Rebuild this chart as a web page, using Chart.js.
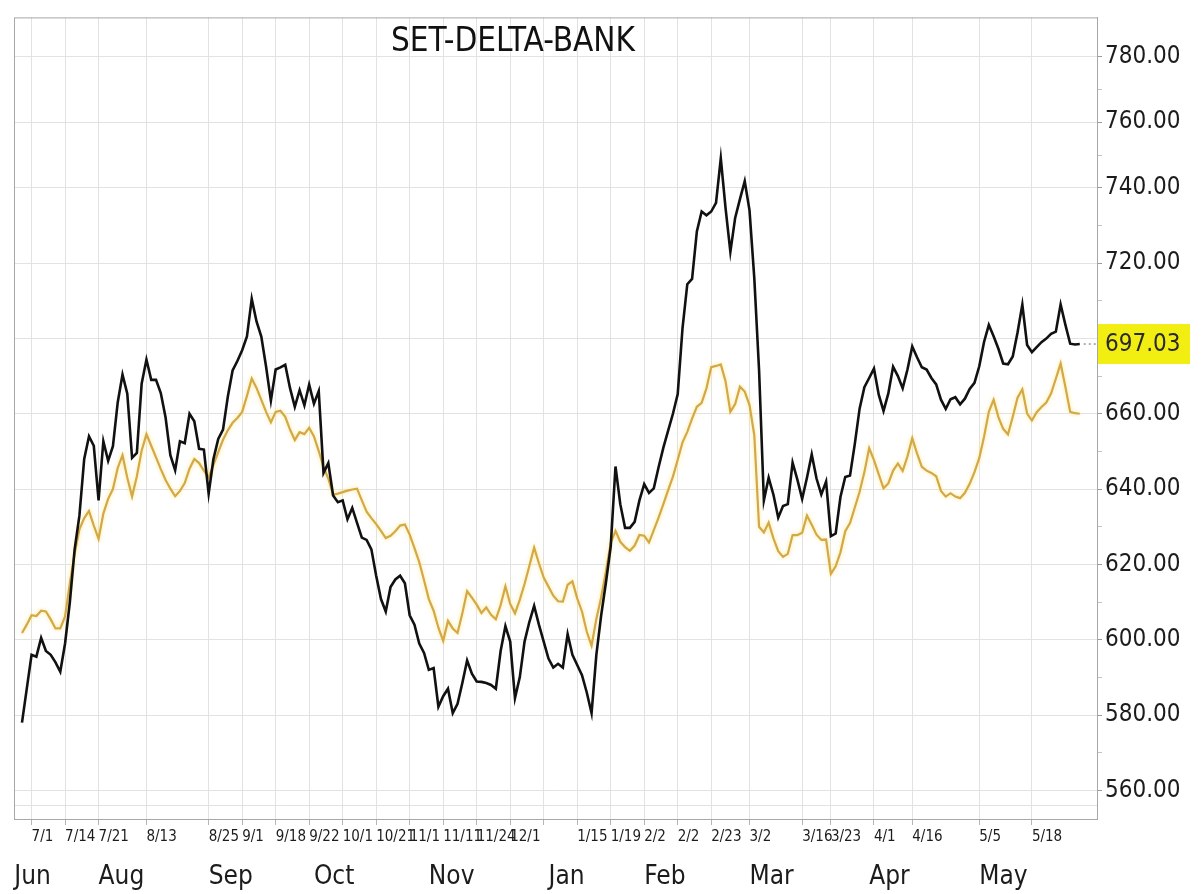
<!DOCTYPE html>
<html>
<head>
<meta charset="utf-8">
<title>SET-DELTA-BANK</title>
<script src="https://cdn.jsdelivr.net/npm/chart.js@4/dist/chart.umd.min.js"></script>
<style>
  html, body { margin: 0; padding: 0; background: #fff; }
  #wrap { width: 1203px; height: 894px; }
</style>
</head>
<body>
<div id="wrap"><canvas id="chart"></canvas></div>
<script>
/** SET-DELTA-BANK daily line chart: index (black) vs. comparison line (gold). */

const TITLE = "SET-DELTA-BANK";

// x axis: one step per trading day, tick labels sit on given day indices
const DATE_TICKS = [2, 9, 16, 26, 39, 46, 53, 60, 67, 74, 81, 88, 95, 102, 109, 116, 123, 130, 137, 144, 152, 163, 169, 178, 186, 200, 211];
const DATE_LABELS = ["7/1", "7/14", "7/21", "8/13", "8/25", "9/1", "9/18", "9/22", "10/1", "10/21", "11/1", "11/11", "11/24", "12/1", "", "1/15", "1/19", "2/2", "2/2", "2/23", "3/2", "3/16", "3/23", "4/1", "4/16", "5/5", "5/18"];
const MONTH_TICKS = [-1.6, 16, 39, 61, 85, 110, 130, 152, 177, 200];
const MONTH_LABELS = ["Jun", "Aug", "Sep", "Oct", "Nov", "Jan", "Feb", "Mar", "Apr", "May"];

// y axis
const Y_GRID = [556, 560, 580, 600, 620, 640, 660, 700, 720, 740, 760, 780];
const Y_LABELED = [560, 580, 600, 620, 640, 660, 720, 740, 760, 780];
const Y_MINOR = [570, 590, 610, 630, 650, 680, 710, 730, 750, 770];

const BANK_INDEX = [
  578, 587, 596, 595.5, 600.5, 597, 596, 594, 591.5, 599,
  610, 624, 633, 648, 654, 651.5, 637, 652.7, 647.5, 651.4,
  666, 680.8, 670.7, 648.3, 649.6, 676, 688.8, 678, 678, 671,
  659, 649, 645, 652.7, 652.2, 660, 658, 650.7, 650.5, 638.8,
  648, 653.3, 655.8, 669, 683, 688, 693.7, 700.5, 710.5, 704.5,
  700.5, 685, 667, 683.5, 684.6, 686, 673.6, 663.7, 672.5, 664.5,
  675.5, 665.3, 672, 644.3, 646.9, 638.3, 636.5, 637, 632, 635,
  631, 627.1, 626.5, 624, 617, 610.8, 607.5, 614, 616, 617,
  615, 606.5, 604, 599, 596.5, 592, 592.5, 582.2, 585, 587,
  580.5, 583, 588.5, 594.5, 591, 588.9, 588.8, 588.5, 588, 587,
  597, 603.6, 599.5, 584.5, 590, 599.5, 604.7, 609, 604, 599.5,
  595, 592.6, 593.6, 592.6, 601.5, 596, 593.3, 590.6, 586, 580.5,
  596, 606.4, 615.2, 624.7, 646, 636, 629.7, 629.7, 631.3, 637,
  641.3, 639, 640.2, 645.8, 651, 655.5, 660, 670.5, 702.7, 714.4,
  715.8, 728.4, 733.7, 732.7, 733.7, 736, 749, 734.5, 723, 732,
  737, 742, 734, 716, 683, 637, 643, 638.5, 632.4, 635.5,
  636, 647, 642.5, 637.4, 643, 649.2, 642.8, 638.6, 642, 627.5,
  628.2, 637.9, 643.2, 643.6, 652, 662.7, 674.1, 679, 684, 670.1,
  661.5, 670.8, 685, 680, 673.5, 683.5, 695.7, 690, 684.7, 683.5,
  679, 675.6, 667.5, 662.6, 667.7, 668.8, 665, 668, 673.2, 676.4,
  685.2, 698.1, 703.6, 700.6, 694.5, 686.7, 686.3, 690.4, 701.6, 709,
  696.5, 692.7, 695.4, 698, 699.9, 701.2, 701.8, 709, 703.6, 697.2,
  696.8, 697.03
];

const COMPARE_LINE = [
  601.8, 604, 606.5, 606.3, 607.7, 607.5, 605.4, 603, 603, 606.2,
  615, 622.8, 629.3, 632.3, 634.2, 630.3, 626.8, 633.5, 637.4, 640,
  645.6, 649, 643, 638, 643.4, 650.2, 654.6, 651.5, 648.4, 645.3,
  642.4, 640.1, 638.1, 639.5, 641.6, 645.4, 648, 646.9, 644.9, 643.1,
  646.4, 649.8, 653.1, 655.6, 657.6, 658.9, 661, 669.5, 678.7, 673.7,
  667.4, 661, 657.7, 661, 661.6, 659.2, 655.8, 653, 655.1, 654.6,
  656.3, 654, 650.1, 645.8, 642.8, 638.5, 638.8, 639.2, 639.6, 639.9,
  640.1, 637, 634, 632.3, 630.7, 628.9, 627, 627.6, 628.8, 630.3,
  630.6, 627.9, 624.3, 620.6, 615.8, 610.8, 607.7, 603.2, 599.7, 605,
  603, 601.8, 607, 612.9, 611.2, 609.3, 607.1, 608.6, 606.6, 605.4,
  609.2, 614.2, 609.5, 607, 610.6, 614.8, 619.6, 624.5, 620.3, 616.5,
  614.1, 611.7, 610.2, 610.1, 614.6, 615.5, 611, 607.5, 602.1, 598.4,
  605.5, 611.2, 618.1, 625.7, 628.9, 626, 624.6, 623.6, 625, 627.8,
  627.6, 625.8, 629.1, 632.4, 636, 639.7, 643.3, 647.8, 652.4, 655.2,
  658.7, 663.7, 665.8, 673.5, 684.8, 685.4, 686.2, 677.2, 661, 665.2,
  674.4, 671.8, 664.6, 654.3, 630, 628.5, 631.1, 626.9, 623.5, 622,
  622.8, 627.8, 627.8, 628.4, 633, 630.5, 627.9, 626.5, 626.6, 617.5,
  619.5, 623.2, 628.8, 631, 635.1, 639.3, 644.5, 650.9, 647.7, 643.9,
  640.2, 641.5, 644.9, 646.8, 644.8, 648.7, 653.5, 649.5, 645.9, 644.9,
  644.3, 643.4, 639.5, 638, 638.9, 638, 637.6, 639, 641.4, 644.5,
  648.2, 653.9, 661, 667.5, 659.1, 656, 654.5, 659.2, 668.5, 673,
  660.1, 658.2, 660.8, 663.6, 666, 670.7, 678.6, 686.7, 674.2, 661,
  660.3, 660
];

// the value axis of the original is not evenly spaced: gridlines sit on these
// values, with the given relative gap between neighbours
const Y_STOPS = [560, 580, 600, 620, 640, 660, 700, 720, 740, 760, 780];
const Y_GAPS = [1, 1, 1, 1, 1, 1, 1, 1, 0.87, 0.87];

function stopPosition(v) {
  const n = Y_STOPS.length;
  if (v <= Y_STOPS[0]) return ((v - Y_STOPS[0]) / (Y_STOPS[1] - Y_STOPS[0])) * Y_GAPS[0];
  let pos = 0;
  for (let j = 0; j < n - 1; j++) {
    const a = Y_STOPS[j], b = Y_STOPS[j + 1];
    if (v <= b || j === n - 2) return pos + ((v - a) / (b - a)) * Y_GAPS[j];
    pos += Y_GAPS[j];
  }
  return pos;
}

function valueFromPosition(p) {
  let pos = 0;
  for (let j = 0; j < Y_STOPS.length - 1; j++) {
    const a = Y_STOPS[j], b = Y_STOPS[j + 1], g = Y_GAPS[j];
    if (p <= pos + g || j === Y_STOPS.length - 2) return a + ((p - pos) / g) * (b - a);
    pos += g;
  }
  return Y_STOPS[Y_STOPS.length - 1];
}

class SteppedScale extends Chart.LinearScale {
  static id = "stepped";
  getPixelForValue(value) {
    if (value === null || value === undefined) return NaN;
    const lo = stopPosition(this.min), hi = stopPosition(this.max);
    return this.getPixelForDecimal((stopPosition(value) - lo) / (hi - lo));
  }
  getValueForPixel(pixel) {
    const lo = stopPosition(this.min), hi = stopPosition(this.max);
    return valueFromPosition(lo + this.getDecimalForPixel(pixel) * (hi - lo));
  }
}
Chart.register(SteppedScale);

//pick a narrow face if one is installed
function fontAvailable(family) {
  const ctx = document.createElement("canvas").getContext("2d");
  const sample = "SET-DELTA-BANK 780.00";
  ctx.font = "40px monospace";
  const base = ctx.measureText(sample).width;
  ctx.font = `40px "${family}", monospace`;
  return ctx.measureText(sample).width !== base;
}
const NARROW = ["Liberation Sans Narrow", "DejaVu Sans Condensed"].find(fontAvailable);
const FAMILY = NARROW ? `"${NARROW}", "Liberation Sans", sans-serif` : `"Liberation Sans", sans-serif`;
const FS = NARROW === "Liberation Sans Narrow" ? 1 : 0.81;
const px = (n) => Math.round(n * FS);

Chart.defaults.font.family = FAMILY;
Chart.defaults.color = "#1c1c1c";

const decorations = {
  id: "decorations",
  beforeDatasetsDraw(chart) {
    const { ctx, chartArea: a } = chart;
    ctx.save();
    ctx.strokeStyle = "#a8a8a8";
    ctx.lineWidth = 1;
    ctx.strokeRect(a.left + 0.5, a.top + 0.5, a.right - a.left, a.bottom - a.top);
    ctx.restore();
  },
  beforeDatasetDraw(chart, args) {
    if (args.index !== 1) return;
    const ctx = chart.ctx;
    ctx.save();
    ctx.shadowColor = "rgba(255, 230, 130, 0.9)";
    ctx.shadowBlur = 4;
  },
  afterDatasetDraw(chart, args) {
    if (args.index === 1) chart.ctx.restore();
  },
  afterDatasetsDraw(chart) {
    const { ctx, chartArea: a, scales } = chart;
    ctx.save();
    // title
    ctx.font = `${px(41)}px ${FAMILY}`;
    ctx.fillStyle = "#111";
    ctx.textAlign = "center";
    ctx.textBaseline = "alphabetic";
    ctx.fillText(TITLE, 513, 51);

    // last value tag
    const last = BANK_INDEX[BANK_INDEX.length - 1];
    const y = scales.y.getPixelForValue(last);
    const xEnd = scales.x.getPixelForValue(BANK_INDEX.length - 1);
    ctx.strokeStyle = "#666";
    ctx.setLineDash([2, 3]);
    ctx.beginPath();
    ctx.moveTo(xEnd + 4, y);
    ctx.lineTo(a.right - 1, y);
    ctx.stroke();
    ctx.setLineDash([]);
    ctx.fillStyle = "#f2ee12";
    ctx.fillRect(a.right + 1, y - 20, 92, 40);
    ctx.fillStyle = "#2a2a2a";
    ctx.font = `${px(30)}px ${FAMILY}`;
    ctx.textAlign = "left";
    ctx.textBaseline = "middle";
    ctx.fillText(last.toFixed(2), a.right + 8, y + 1);
    ctx.restore();
  },
};

const days = BANK_INDEX.map((_, i) => i);

new Chart(document.getElementById("chart"), {
  type: "line",
  data: {
    labels: days,
    datasets: [
      {
        label: "SET-DELTA-BANK",
        data: BANK_INDEX.map((v, i) => ({ x: days[i], y: v })),
        borderColor: "#111111",
        borderWidth: 2.6,
        pointRadius: 0,
        tension: 0,
      },
      {
        label: "Compare",
        data: COMPARE_LINE.map((v, i) => ({ x: days[i], y: v })),
        borderColor: "#d3a846",
        borderWidth: 2.2,
        pointRadius: 0,
        tension: 0,
      },
    ],
  },
  options: {
    responsive: true,
    maintainAspectRatio: false,
    animation: false,
    events: [],
    layout: { padding: { left: 14, top: 5, right: 0, bottom: 0 } },
    plugins: { legend: { display: false }, tooltip: { enabled: false } },
    scales: {
      x: {
        type: "linear",
        position: "bottom",
        weight: 0,
        min: -1.67,
        max: 224.6,
        afterBuildTicks: (s) => { s.ticks = DATE_TICKS.map((v) => ({ value: v })); },
        afterFit: (s) => { s.height = 34; },
        grid: { color: "#e2e2e2", tickColor: "#b5b5b5", tickLength: 6 },
        border: { color: "#a8a8a8" },
        ticks: {
          autoSkip: false,
          maxRotation: 0,
          align: "start",
          padding: 3,
          font: { size: px(18) },
          callback: (v, i) => DATE_LABELS[i],
        },
      },
      months: {
        type: "linear",
        position: "bottom",
        weight: 1,
        min: -1.67,
        max: 224.6,
        afterBuildTicks: (s) => { s.ticks = MONTH_TICKS.map((v) => ({ value: v })); },
        afterFit: (s) => { s.height = 41; },
        grid: { display: false },
        border: { display: false },
        ticks: {
          autoSkip: false,
          maxRotation: 0,
          align: "start",
          padding: 1,
          font: { size: px(32) },
          callback: (v, i) => MONTH_LABELS[i],
        },
      },
      y: {
        type: "stepped",
        position: "right",
        min: 552.4,
        max: 792,
        afterBuildTicks: (s) => {
          s.ticks = [...Y_GRID, ...Y_MINOR].sort((a, b) => a - b).map((v) => ({ value: v }));
        },
        afterFit: (s) => { s.width = 106; },
        grid: {
          color: (c) => (c.tick && Y_GRID.includes(c.tick.value) ? "#e2e2e2" : "rgba(0,0,0,0)"),
          tickColor: (c) => (c.tick && c.tick.value === 556 ? "rgba(0,0,0,0)" : Y_MINOR.includes(c.tick && c.tick.value) ? "#c4c4c4" : "#9a9a9a"),
          tickLength: 5,
        },
        border: { color: "#a8a8a8" },
        ticks: {
          autoSkip: false,
          padding: 3,
          font: { size: px(30) },
          callback: (v) => (Y_LABELED.includes(v) ? v.toFixed(2) : ""),
        },
      },
    },
  },
  plugins: [decorations],
});
</script>
</body>
</html>
